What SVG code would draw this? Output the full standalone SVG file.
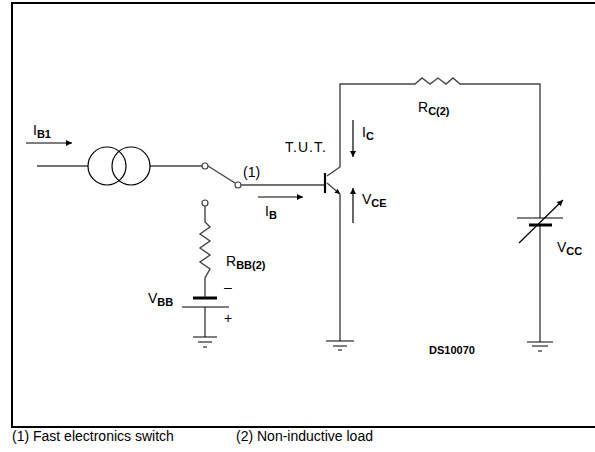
<svg xmlns="http://www.w3.org/2000/svg" width="595" height="452" viewBox="0 0 595 452">
<style>
.w{fill:none;stroke:#444;stroke-width:1.4}
.k{fill:none;stroke:#000;stroke-width:1.2}
.f{fill:none;stroke:#000;stroke-width:2}
.t{font-family:"Liberation Sans",Arial,sans-serif;font-size:14px;fill:#000}
.s{font-family:"Liberation Sans",Arial,sans-serif;font-size:11px;font-weight:bold;fill:#000}
.c{font-family:"Liberation Sans",Arial,sans-serif;font-size:14px;fill:#000}
.o{fill:#fff;stroke:#444;stroke-width:1.2}
</style>
<defs>
<marker id="ah" viewBox="0 0 10 10" refX="10" refY="5" markerWidth="10" markerHeight="5" markerUnits="userSpaceOnUse" orient="auto"><path d="M0,0 L10,5 L0,10 Z" fill="#000"/></marker>
<marker id="ah2" viewBox="0 0 10 10" refX="10" refY="5" markerWidth="14" markerHeight="6" markerUnits="userSpaceOnUse" orient="auto"><path d="M0,0 L10,5 L0,10 Z" fill="#000"/></marker>
</defs>
<g id="frame">
<path class="f" d="M12,3 H595 M12,2 V427 H595"/>
</g>
<g id="connectors">
<path class="w" d="M37,166 H88 M150,166 H202 M208,166 L235,183 M241,185 H325"/>
<path class="w" d="M205,206 V222 L210,227 L200,234 L210,241 L200,248 L210,255 L200,262 L210,269 L205,278 V298 M205,307 V337"/>
<path class="w" d="M327,176 L340,167 V84 H415 L422,78 L430,84 L438,78 L446,84 L453,78 L460,84 H540 V218 M540,225 V342 M340,201 V341"/>
</g>
<g id="source">
<circle class="k" cx="107" cy="166" r="19"/>
<circle class="k" cx="131" cy="166" r="19"/>
</g>
<g id="switch">
<circle class="o" cx="205" cy="166" r="3"/>
<circle class="o" cx="238" cy="185" r="3"/>
<circle class="o" cx="205" cy="203" r="3"/>
</g>
<g id="transistor">
<path d="M325,173 V193" stroke="#000" stroke-width="2.2" fill="none"/>
<path class="w" d="M327,183 L340,194" marker-end="url(#ah)"/>
<path class="w" d="M340,194 V201"/>
</g>
<g id="vbb">
<path d="M193,298 H217" stroke="#000" stroke-width="3"/>
<path d="M182,307 H229" stroke="#000" stroke-width="1.2"/>
</g>
<g id="vcc">
<path d="M517,218 H563" stroke="#000" stroke-width="1.2"/>
<path d="M529,225 H552" stroke="#000" stroke-width="3"/>
<path class="k" d="M519,243 L563,200" marker-end="url(#ah2)"/>
</g>
<g id="grounds">
<path class="k" d="M193,337 H217 M198,342 H212 M203,347 H207"/>
<path class="k" d="M326,341 H354 M333,346 H347 M338,350 H342"/>
<path class="k" d="M527,342 H553 M532,346 H548 M538,351 H542"/>
</g>
<g id="arrows">
<path class="k" d="M26,143 H72" marker-end="url(#ah2)"/>
<path class="k" d="M258,197 H303" marker-end="url(#ah2)"/>
<path class="k" d="M353,120 V157" marker-end="url(#ah2)"/>
<path class="k" d="M353,223 V188" marker-end="url(#ah2)"/>
</g>
<g id="labels">
<text class="t" x="33" y="135">I<tspan class="s" dy="3">B1</tspan></text>
<text class="t" x="243" y="177" font-size="15">(1)</text>
<text class="t" x="265" y="216">I<tspan class="s" dy="3">B</tspan></text>
<text class="t" x="226" y="266">R<tspan class="s" font-size="12" dy="3">BB(2)</tspan></text>
<text class="t" x="224" y="292">–</text>
<text class="t" x="224" y="323">+</text>
<text class="t" x="148" y="303">V<tspan class="s" dy="3">BB</tspan></text>
<text class="t" x="285" y="152" letter-spacing="1">T.U.T.</text>
<text class="t" x="362" y="137">I<tspan class="s" dy="3">C</tspan></text>
<text class="t" x="362" y="204">V<tspan class="s" dy="3">CE</tspan></text>
<text class="t" x="418" y="112">R<tspan class="s" font-size="12" dy="3">C(2)</tspan></text>
<text class="t" x="557" y="252">V<tspan class="s" dy="3">CC</tspan></text>
<text class="s" x="429" y="354" font-size="9">DS10070</text>
<text class="c" x="12" y="441">(1) Fast electronics switch</text>
<text class="c" x="236" y="441">(2) Non-inductive load</text>
</g>
</svg>
